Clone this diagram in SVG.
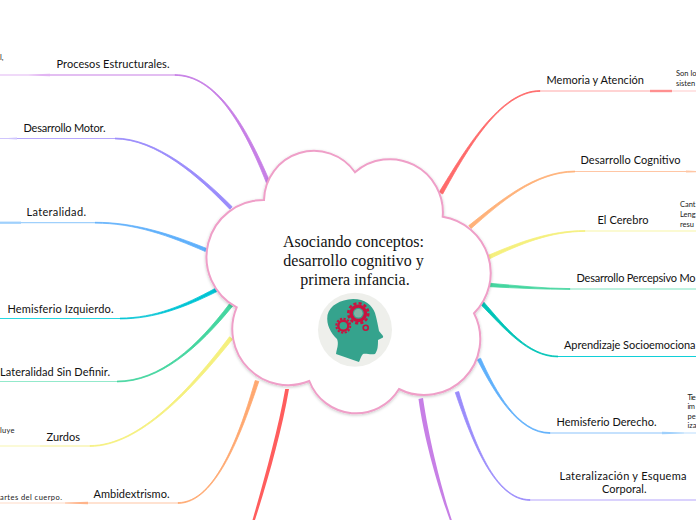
<svg xmlns="http://www.w3.org/2000/svg" width="696" height="520" viewBox="0 0 696 520">
<style>
text{font-family:"Lato","Noto Sans","Liberation Sans",sans-serif;fill:#111}
.l{font-size:11px}
.s{font-size:7.5px;fill:#222}
.t{font-family:"Liberation Serif",serif;font-size:16px;text-anchor:middle;fill:#111}
.h{fill:none;stroke-width:1.2}
.a{stroke-width:.8;stroke-linejoin:round}
</style>
<defs>
<filter id="sh" x="-10%" y="-10%" width="120%" height="120%"><feDropShadow dx="0" dy="1" stdDeviation="1.5" flood-color="#000" flood-opacity=".22"/></filter>
</defs>
<rect width="696" height="520" fill="#fff"/>
<g id="connectors">
<path class="a" fill="#c77fe6" stroke="#c77fe6" d="M269.600 181.200C246 125.500 216 74.600 175 74.600L175 75.400C216 75.400 244 126.500 266.400 182.800Z"/>
<path class="h" stroke="#c77fe6" d="M175 75H50"/><path fill="#e2b5f3" d="M50 73.800V76.200L28 75.500H0V74.600H28Z"/>
<path class="a" fill="#9a8cfb" stroke="#9a8cfb" d="M232.200 206.800C200.800 175.200 156 138.100 115 138.100L115 138.900C156 138.900 199.200 176.800 229.800 209.200Z"/>
<path class="h" stroke="#b5a6fc" d="M115 138.500H17"/><path fill="#cfc5fd" d="M17 137.400V139.600L8 139H0V138H8Z"/>
<path class="a" fill="#5fb0fb" stroke="#5fb0fb" d="M206.700 248.500C170.500 234 135 222.300 95 222.300L95 223.100C135 223.100 169.500 236 205.300 251.500Z"/>
<path class="h" stroke="#9fd0fc" d="M95 222.700H0"/><path fill="#9fd0fc" d="M21 221.600V223.800H0V221.600Z"/>
<path class="a" fill="#00c4d4" stroke="#00c4d4" d="M215.200 288.400C184.500 305 155 318.100 120 318.100L120 318.900C155 318.900 185.500 307 216.800 291.600Z"/>
<path class="h" stroke="#27d6e0" d="M120 318.500H0"/>
<path class="a" fill="#45d6a0" stroke="#45d6a0" d="M229.500 303.800C197.300 346.400 160 381.100 117 381.100L117 381.900C160 381.900 198.700 347.600 232.500 306.200Z"/>
<path class="h" stroke="#93e9cb" stroke-width="1.600" d="M117 381.500H0"/>
<path class="a" fill="#f5f07e" stroke="#f5f07e" d="M229.500 336.800C191.300 387.400 140 445.600 90 445.600L90 446.400C140 446.400 192.700 388.600 232.500 339.200Z"/>
<path class="h" stroke="#f5f08e" d="M90 446H40"/><path class="h" stroke="#f8f5b0" stroke-width="1.600" d="M40 446H0"/>
<path class="a" fill="#ffa870" stroke="#ffa870" d="M255.200 380.500C240.300 431.800 216 502.600 178 502.600L178 503.400C216 503.400 241.700 432.200 258.800 381.500Z"/>
<path class="h" stroke="#ffc5a3" d="M178 503H88"/><path fill="#ffb48a" d="M88 501.800V504.200L65 503.500V502.600Z"/><path class="h" stroke="#ffdcc8" stroke-width="1.600" d="M65 503H0"/>
<path fill="#ff5d5d" d="M285.200 389C278 430 264 480 252.500 520L255 520C268 480 282 430 289 389Z"/>
<path class="a" fill="#ff6b6b" stroke="#ff6b6b" d="M439.300 192C465.300 149.600 500 90.600 540 90.600L540 91.400C500 91.400 466.700 150.400 442.700 194Z"/>
<path class="h" stroke="#ffa8a8" stroke-width="1.600" d="M540 91H650"/><path fill="#ff9090" d="M650 89.800H672V92.200H650Z"/><path class="h" stroke="#ffd2d2" stroke-width="1.600" d="M672 91H696"/>
<path class="a" fill="#ffb27a" stroke="#ffb27a" d="M468.800 225.600C499.400 201.400 535 171.100 575 171.100L575 171.900C535 171.900 500.600 202.600 471.200 228.400Z"/>
<path class="h" stroke="#ffc6a4" stroke-width="1.400" d="M575 171.500H696"/><path fill="#ffc6a4" d="M686 170.400L696 171V172.200L686 172.600Z"/>
<path class="a" fill="#f5f07e" stroke="#f5f07e" d="M488.300 255.300C519.600 242 550 230.600 585 230.600L585 231.400C550 231.400 520.400 244 489.700 258.700Z"/>
<path class="h" stroke="#f8f5a5" stroke-width="1.600" d="M585 231H696"/>
<path class="a" fill="#45d6a0" stroke="#45d6a0" d="M490 283.300C515 285.500 545 288.600 570 288.600V289.400C545 289.400 515 288 490 286.700Z"/>
<path class="h" stroke="#7fe3c0" stroke-width="1.400" d="M570 289H696"/>
<path class="a" fill="#00c4b8" stroke="#00c4b8" d="M483.400 301.700C505.700 327.400 528 356.100 558 356.100V356.900C528 356.900 504.300 328.600 480.600 304.300Z"/>
<path class="h" stroke="#10d0d8" stroke-width="1.400" d="M558 356.500H696"/>
<path class="a" fill="#5fb0fb" stroke="#5fb0fb" d="M480.600 358.200C495.600 391.600 518 432.600 550 432.600V433.400C518 433.400 494.400 392.400 477.400 359.800Z"/>
<path class="h" stroke="#8cc4fb" stroke-width="1.200" d="M550 433H662"/><path fill="#9fd0fc" d="M662 431.800L684 432.600V433.600L662 434.200Z"/><path class="h" stroke="#c7e3fd" d="M684 433H696"/>
<path class="a" fill="#9a8cfb" stroke="#9a8cfb" d="M458.700 391.500C473.700 441.800 495 499.600 530 499.600V500.400C495 500.400 472.300 442.200 455.300 392.500Z"/>
<path class="h" stroke="#b5a6fc" stroke-width="1.200" d="M530 500H696"/>
<path fill="#c77fe6" d="M418.500 399C424 440 439 490 449.800 520L451.800 520C442 490 429 440 423 398Z"/>
</g>
<g id="root">
<path filter="url(#sh)" fill="#fff" stroke="#ef9fc8" stroke-width="2" d="M264 200A50 50 0 0 1 355 172.300A53 53 0 0 1 442.700 216.700A57 57 0 0 1 474 313.300A56 56 0 0 1 399 389A50 50 0 0 1 309.300 381A56 56 0 0 1 236.700 307.300A57 57 0 0 1 264 200Z"/>
<text class="t" x="353.500" y="246.700">Asociando conceptos:</text>
<text class="t" x="353.500" y="265.700">desarrollo cognitivo y</text>
<text class="t" x="355" y="285">primera infancia.</text>
<circle cx="355" cy="329.700" r="37" fill="#eeefeb"/>
<path fill="#35a38d" d="M327.500 315C330 305 340 300 353 299C365 299 372 305 375 313C377 320 378 326 379 331C381 334 384 336 383 337.500L378 340C378 345 378 350 375 354C370 355 366 353 363 354C361 356 360 360 359 362L336 354C337 348 339 344 337 339C331 333 326 325 327.500 315Z"/>
<g fill="none" stroke="#c8133f">
<circle cx="358.300" cy="313.300" r="7.200" stroke-width="3.400"/>
<circle cx="358.300" cy="313.300" r="10" stroke-width="2.600" stroke-dasharray="3.100 2.130"/>
<circle cx="343.300" cy="325.700" r="5" stroke-width="2.400"/>
<circle cx="343.300" cy="325.700" r="7" stroke-width="2" stroke-dasharray="2.200 1.470"/>
<circle cx="365.700" cy="327.700" r="2.500" stroke-width="1.600"/>
</g>
<circle cx="358.300" cy="313.300" r="4.300" fill="#7fb3a4"/>
</g>
<g id="n1"><text class="l" x="56.500" y="68" textLength="113">Procesos Estructurales.</text><text class="s" x="0" y="60">l,</text></g>
<g id="n2"><text class="l" x="23.500" y="132" textLength="82">Desarrollo Motor.</text></g>
<g id="n3"><text class="l" x="26.500" y="216" textLength="59.500">Lateralidad.</text></g>
<g id="n4"><text class="l" x="7.500" y="312.500" textLength="106">Hemisferio Izquierdo.</text></g>
<g id="n5"><text class="l" x="0" y="375.500" textLength="110">Lateralidad Sin Definir.</text></g>
<g id="n6"><text class="l" x="46.500" y="440.500" textLength="33.500">Zurdos</text><text class="s" x="0" y="432.500" textLength="14.500">luye</text></g>
<g id="n7"><text class="l" x="93.500" y="497.500" textLength="76">Ambidextrismo.</text><text class="s" x="0" y="499.500" textLength="62">artes del cuerpo.</text></g>
<g id="n8"><text class="l" x="546.500" y="84" textLength="97.500">Memoria y Atención</text><text class="s" x="676" y="76">Son lo</text><text class="s" x="676" y="86">sisten</text></g>
<g id="n9"><text class="l" x="580.500" y="164" textLength="100">Desarrollo Cognitivo</text></g>
<g id="n10"><text class="l" x="597.500" y="224" textLength="51">El Cerebro</text><text class="s" x="680" y="207">Cant</text><text class="s" x="680" y="216.500">Leng</text><text class="s" x="680" y="226.500">resu</text></g>
<g id="n11"><text class="l" x="576.500" y="282" textLength="119">Desarrollo Percepsivo Mo</text></g>
<g id="n12"><text class="l" x="564" y="349" textLength="131.500">Aprendizaje Socioemociona</text></g>
<g id="n13"><text class="l" x="556.500" y="426" textLength="100">Hemisferio Derecho.</text><text class="s" x="687.500" y="399.500" textLength="8.300">Tie</text><text class="s" x="687.500" y="409" textLength="7.500">im</text><text class="s" x="687.500" y="418.500">pe</text><text class="s" x="687.500" y="427.500">iza</text></g>
<g id="n14"><text class="l" x="559.500" y="480" textLength="127">Lateralización y Esquema</text><text class="l" x="602" y="493" textLength="44.500">Corporal.</text></g>
</svg>
